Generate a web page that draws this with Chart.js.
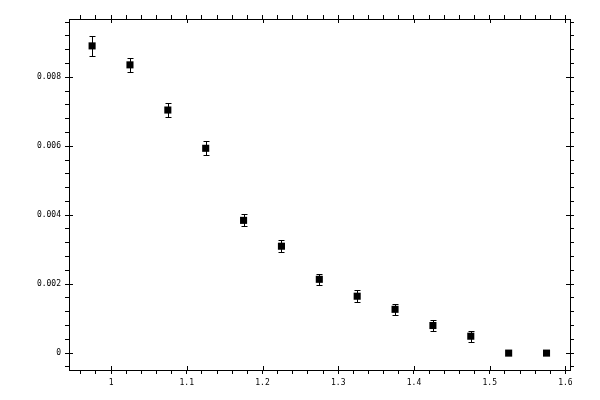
<!DOCTYPE html>
<html>
<head>
<meta charset="utf-8">
<script src="https://cdn.jsdelivr.net/npm/chart.js@4/dist/chart.umd.min.js"></script>
<style>
  body { margin: 0; background: #fff; }
  canvas { display: block; }
</style>
</head>
<body>
<canvas id="myChart" width="600" height="400"></canvas>
<script>
// measured points (bin centres), values and errors
var xValues = [0.975, 1.025, 1.075, 1.125, 1.175, 1.225, 1.275, 1.325, 1.375, 1.425, 1.475, 1.525, 1.575]
var yValues = [0.00891, 0.00836, 0.00705, 0.00594, 0.00385, 0.00310, 0.00214, 0.00165, 0.00127, 0.00080, 0.00049, 0, 0]
var yErrors = [0.00030, 0.00021, 0.00019, 0.00020, 0.00017, 0.00017, 0.00016, 0.00017, 0.00016, 0.00017, 0.00016, 0, 0]

var xMajorTicks = [1, 1.1, 1.2, 1.3, 1.4, 1.5, 1.6]
var xTickLabels = ['1', '1.1', '1.2', '1.3', '1.4', '1.5', '1.6']
var yMajorTicks = [0, 0.002, 0.004, 0.006, 0.008]
var yTickLabels = ['0', '0.002', '0.004', '0.006', '0.008']

var xRange = [0.9445, 1.606]
var yRange = [-0.00049, 0.00969]

function majorLabel(v, majors, labels) {
    for (var i = 0; i < majors.length; i++) {
        if (Math.abs(v - majors[i]) < 1e-9) return labels[i]
    }
    return ''
}

const errorBars = {
    id: 'errorBars',
    beforeDatasetsDraw(chart) {
        const ctx = chart.ctx, xs = chart.scales.x, ys = chart.scales.y
        ctx.save()
        ctx.strokeStyle = '#000'
        ctx.lineWidth = 1
        for (let i = 0; i < xValues.length; i++) {
            if (!yErrors[i]) continue
            const px = Math.round(xs.getPixelForValue(xValues[i])) + 0.5
            const top = Math.round(ys.getPixelForValue(yValues[i] + yErrors[i])) + 0.5
            const bot = Math.round(ys.getPixelForValue(yValues[i] - yErrors[i])) + 0.5
            ctx.beginPath()
            ctx.moveTo(px, top); ctx.lineTo(px, bot)
            ctx.moveTo(px - 3, top); ctx.lineTo(px + 3, top)
            ctx.moveTo(px - 3, bot); ctx.lineTo(px + 3, bot)
            ctx.stroke()
        }
        ctx.restore()
    }
}

// major ticks cross the frame: add the inner half
const innerTicks = {
    id: 'innerTicks',
    afterDraw(chart) {
        const ctx = chart.ctx, a = chart.chartArea, xs = chart.scales.x, ys = chart.scales.y
        ctx.save()
        ctx.strokeStyle = '#000'
        ctx.lineWidth = 1
        ctx.beginPath()
        xMajorTicks.forEach(v => {
            const px = Math.round(xs.getPixelForValue(v)) + 0.5
            ctx.moveTo(px, a.bottom); ctx.lineTo(px, a.bottom - 4)
            ctx.moveTo(px, a.top); ctx.lineTo(px, a.top + 4)
        })
        yMajorTicks.forEach(v => {
            const py = Math.round(ys.getPixelForValue(v)) + 0.5
            ctx.moveTo(a.left, py); ctx.lineTo(a.left + 4, py)
            ctx.moveTo(a.right, py); ctx.lineTo(a.right - 4, py)
        })
        ctx.stroke()
        ctx.restore()
    }
}

function axis(pos, range, step, majors, labels, showLabels, size) {
    return {
        type: 'linear',
        position: pos,
        min: range[0],
        max: range[1],
        grid: { drawOnChartArea: false, color: '#000', tickLength: 4, tickWidth: 1 },
        border: { display: true, color: '#000', width: 1 },
        ticks: {
            display: showLabels,
            stepSize: step,
            includeBounds: false,
            autoSkip: false,
            maxRotation: 0,
            padding: 4,
            color: '#000',
            font: { family: 'DejaVu Sans Mono', size: 8 },
            callback: function (v) { return majorLabel(v, majors, labels) }
        },
        afterFit: function (s) {
            if (pos === 'left' || pos === 'right') s.width = size
            else s.height = size
        }
    }
}

const ctx = document.getElementById('myChart').getContext('2d')
const myChart = new Chart(ctx, {
    type: 'scatter',
    data: {
        datasets: [{
            data: xValues.map((x, i) => ({ x: x, y: yValues[i] })),
            pointStyle: 'rect',
            pointRadius: 5,
            pointBorderWidth: 0,
            backgroundColor: '#000',
            borderColor: '#000'
        }]
    },
    options: {
        responsive: false,
        animation: false,
        devicePixelRatio: 1,
        layout: { padding: 0 },
        plugins: { legend: { display: false }, tooltip: { enabled: false } },
        scales: {
            x: axis('bottom', xRange, 0.02, xMajorTicks, xTickLabels, true, 30),
            x2: axis('top', xRange, 0.02, xMajorTicks, xTickLabels, false, 19),
            y: axis('left', yRange, 0.0004, yMajorTicks, yTickLabels, true, 69),
            y2: axis('right', yRange, 0.0004, yMajorTicks, yTickLabels, false, 30)
        }
    },
    plugins: [errorBars, innerTicks]
})
</script>
</body>
</html>
